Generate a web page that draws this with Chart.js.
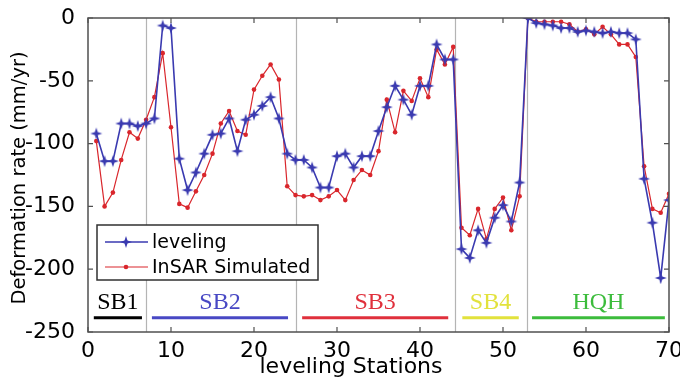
<!DOCTYPE html>
<html><head><meta charset="utf-8">
<script src="https://cdn.jsdelivr.net/npm/chart.js@4.4.0/dist/chart.umd.min.js"></script>
<style>html,body{margin:0;padding:0;background:#fff}#wrap{width:680px;height:380px}</style>
</head><body><div id="wrap"><canvas id="c" width="680" height="380"></canvas></div>
<script>
// ---------- data ----------
const stations = [];
for (let i = 1; i <= 70; i++) stations.push(i);
const leveling = [
  -92, -114, -114, -84, -84, -86, -84, -80, -6, -8,
  -112, -137, -123, -108, -93, -92, -80, -106, -81, -77,
  -70, -63, -80, -108, -113, -113, -119, -135, -135, -110,
  -108, -119, -110, -110, -90, -71, -54, -65, -77, -54,
  -54, -21, -33, -33, -184, -191, -169, -179, -159, -149,
  -162, -131, 0, -4, -5, -6, -8, -8, -11, -10,
  -11, -12, -11, -12, -12, -17, -128, -163, -207, -145
];
const insar = [
  -98, -150, -139, -113, -91, -96, -81, -63, -28, -87,
  -148, -151, -138, -125, -108, -84, -74, -90, -93, -57,
  -46, -37, -49, -134, -141, -142, -141, -145, -142, -137,
  -145, -129, -121, -125, -106, -65, -91, -58, -66, -48,
  -63, -25, -37, -23, -167, -173, -152, -176, -152, -143,
  -169, -142, 0, -3, -3, -3, -3, -5, -11, -9,
  -13, -7, -13, -21, -21, -31, -118, -152, -155, -140
];
const xTicks = [0, 10, 20, 30, 40, 50, 60, 70];
const yTicks = [0, -50, -100, -150, -200, -250];
const separators = [7, 25, 44.2, 52.9];
const segmentNames = ['SB1', 'SB2', 'SB3', 'SB4', 'HQH'];
const segmentStart = [0.7, 7.7, 25.8, 45.1, 53.5];
const segmentEnd = [6.5, 24.1, 43.4, 51.9, 69.5];
const seriesNames = ['leveling', 'InSAR Simulated'];
const xTitle = 'leveling Stations';
const yTitle = 'Deformation rate (mm/yr)';

// ---------- styles ----------
const BLUE = '#3a3ab0';
const RED = '#d9262c';
const segmentColors = ['#000000', '#4848c4', '#e0303c', '#e2e23c', '#3cbc3c'];
const SANS = '"DejaVu Sans", sans-serif';
const SERIF = '"Liberation Serif", serif';

function makeStar(color, r, ri) {
  const c = document.createElement('canvas');
  const s = Math.ceil(2 * r + 2);
  c.width = s; c.height = s;
  const g = c.getContext('2d');
  const cx = s / 2, cy = s / 2;
  g.beginPath();
  for (let k = 0; k < 8; k++) {
    const a = k * Math.PI / 4 - Math.PI / 2;
    const rr = k % 2 === 0 ? r : ri;
    g.lineTo(cx + rr * Math.cos(a), cy + rr * Math.sin(a));
  }
  g.closePath();
  g.fillStyle = color;
  g.fill();
  return c;
}
const star = makeStar(BLUE, 6, 2.1);

const decor = {
  id: 'decor',
  beforeDatasetsDraw(chart) {
    const { ctx, chartArea: a, scales: { x } } = chart;
    ctx.save();
    ctx.strokeStyle = '#b4b4b4';
    ctx.lineWidth = 1.2;
    separators.forEach(v => {
      const px = Math.round(x.getPixelForValue(v)) + 0.5;
      ctx.beginPath(); ctx.moveTo(px, a.top); ctx.lineTo(px, a.bottom); ctx.stroke();
    });
    // segment labels
    const ys = chart.scales.y;
    segmentNames.forEach((n, i) => {
      const x0 = x.getPixelForValue(segmentStart[i]);
      const x1 = x.getPixelForValue(segmentEnd[i]);
      const yl = ys.getPixelForValue(-238.7);
      ctx.strokeStyle = segmentColors[i];
      ctx.lineWidth = 3;
      ctx.beginPath(); ctx.moveTo(x0, yl); ctx.lineTo(x1, yl); ctx.stroke();
      ctx.fillStyle = segmentColors[i];
      ctx.font = '24px ' + SERIF;
      ctx.textAlign = 'center';
      ctx.textBaseline = 'middle';
      ctx.fillText(n, (x0 + x1) / 2, ys.getPixelForValue(-226.5));
    });
    ctx.restore();
  },
  afterDraw(chart) {
    const { ctx, chartArea: a, scales: { x, y } } = chart;
    ctx.save();
    // frame
    ctx.strokeStyle = '#505050';
    ctx.lineWidth = 1.5;
    ctx.strokeRect(a.left, a.top, a.right - a.left, a.bottom - a.top);
    // inward ticks
    ctx.lineWidth = 1.2;
    const tl = 5;
    xTicks.forEach(v => {
      const px = x.getPixelForValue(v);
      ctx.beginPath();
      ctx.moveTo(px, a.bottom); ctx.lineTo(px, a.bottom - tl);
      ctx.moveTo(px, a.top); ctx.lineTo(px, a.top + tl);
      ctx.stroke();
    });
    yTicks.forEach(v => {
      const py = y.getPixelForValue(v);
      ctx.beginPath();
      ctx.moveTo(a.left, py); ctx.lineTo(a.left + tl, py);
      ctx.moveTo(a.right, py); ctx.lineTo(a.right - tl, py);
      ctx.stroke();
    });
    // legend
    const lx = 97, ly = 225, lw = 221, lh = 55;
    ctx.fillStyle = '#ffffff';
    ctx.fillRect(lx, ly, lw, lh);
    ctx.strokeStyle = '#303030';
    ctx.lineWidth = 1.5;
    ctx.strokeRect(lx, ly, lw, lh);
    const rows = [242, 267];
    ctx.font = '19px ' + SANS;
    ctx.textAlign = 'left';
    ctx.textBaseline = 'middle';
    [BLUE, RED].forEach((col, i) => {
      const ry = rows[i];
      ctx.strokeStyle = col;
      ctx.lineWidth = i === 0 ? 1.6 : 1.2;
      ctx.beginPath(); ctx.moveTo(105, ry); ctx.lineTo(148, ry); ctx.stroke();
      if (i === 0) {
        ctx.drawImage(star, 126 - star.width / 2, ry - star.height / 2);
      } else {
        ctx.fillStyle = col;
        ctx.beginPath(); ctx.arc(126, ry, 2.3, 0, Math.PI * 2); ctx.fill();
      }
      ctx.fillStyle = '#000';
      ctx.fillText(seriesNames[i], 152, ry + 1);
    });
    // axis titles
    ctx.fillStyle = '#000';
    ctx.font = '22px ' + SANS;
    ctx.textAlign = 'center';
    ctx.textBaseline = 'middle';
    ctx.fillText(xTitle, 351, 367);
    ctx.save();
    ctx.translate(20, 178);
    ctx.rotate(-Math.PI / 2);
    ctx.font = '19.5px ' + SANS;
    ctx.fillText(yTitle, 0, 0);
    ctx.restore();
    ctx.restore();
  }
};

new Chart(document.getElementById('c'), {
  type: 'line',
  data: {
    datasets: [
      {
        label: seriesNames[0],
        data: stations.map((s, i) => ({ x: s, y: leveling[i] })),
        borderColor: BLUE,
        borderWidth: 1.6,
        pointStyle: star,
        pointRadius: 6,
        pointHoverRadius: 6,
        backgroundColor: BLUE,
        tension: 0,
        order: 1
      },
      {
        label: seriesNames[1],
        data: stations.map((s, i) => ({ x: s, y: insar[i] })),
        borderColor: RED,
        borderWidth: 1.2,
        pointStyle: 'circle',
        pointRadius: 2.3,
        pointBorderWidth: 0,
        pointBackgroundColor: RED,
        backgroundColor: RED,
        tension: 0,
        order: 2
      }
    ]
  },
  options: {
    responsive: false,
    animation: false,
    devicePixelRatio: 1,
    layout: { padding: { top: 18, right: 11, left: 0, bottom: 0 } },
    plugins: { legend: { display: false }, tooltip: { enabled: false } },
    scales: {
      x: {
        type: 'linear', min: 0, max: 70,
        grid: { display: true, drawOnChartArea: false, drawTicks: true, tickLength: 4, color: 'rgba(0,0,0,0)' },
        border: { display: false },
        afterBuildTicks: s => { s.ticks = xTicks.map(v => ({ value: v })); },
        afterFit: s => { s.height = 48; s.paddingLeft = 0; s.paddingRight = 0; },
        ticks: { color: '#000', font: { family: SANS, size: 22 }, padding: 2, maxRotation: 0, autoSkip: false }
      },
      y: {
        type: 'linear', min: -250, max: 0,
        grid: { display: false, drawTicks: false },
        border: { display: false },
        afterBuildTicks: s => { s.ticks = yTicks.map(v => ({ value: v })); },
        afterFit: s => { s.width = 88; s.paddingTop = 0; s.paddingBottom = 0; },
        ticks: { color: '#000', font: { family: SANS, size: 22 }, padding: 13 }
      }
    }
  },
  plugins: [decor]
});
</script>
</body></html>
